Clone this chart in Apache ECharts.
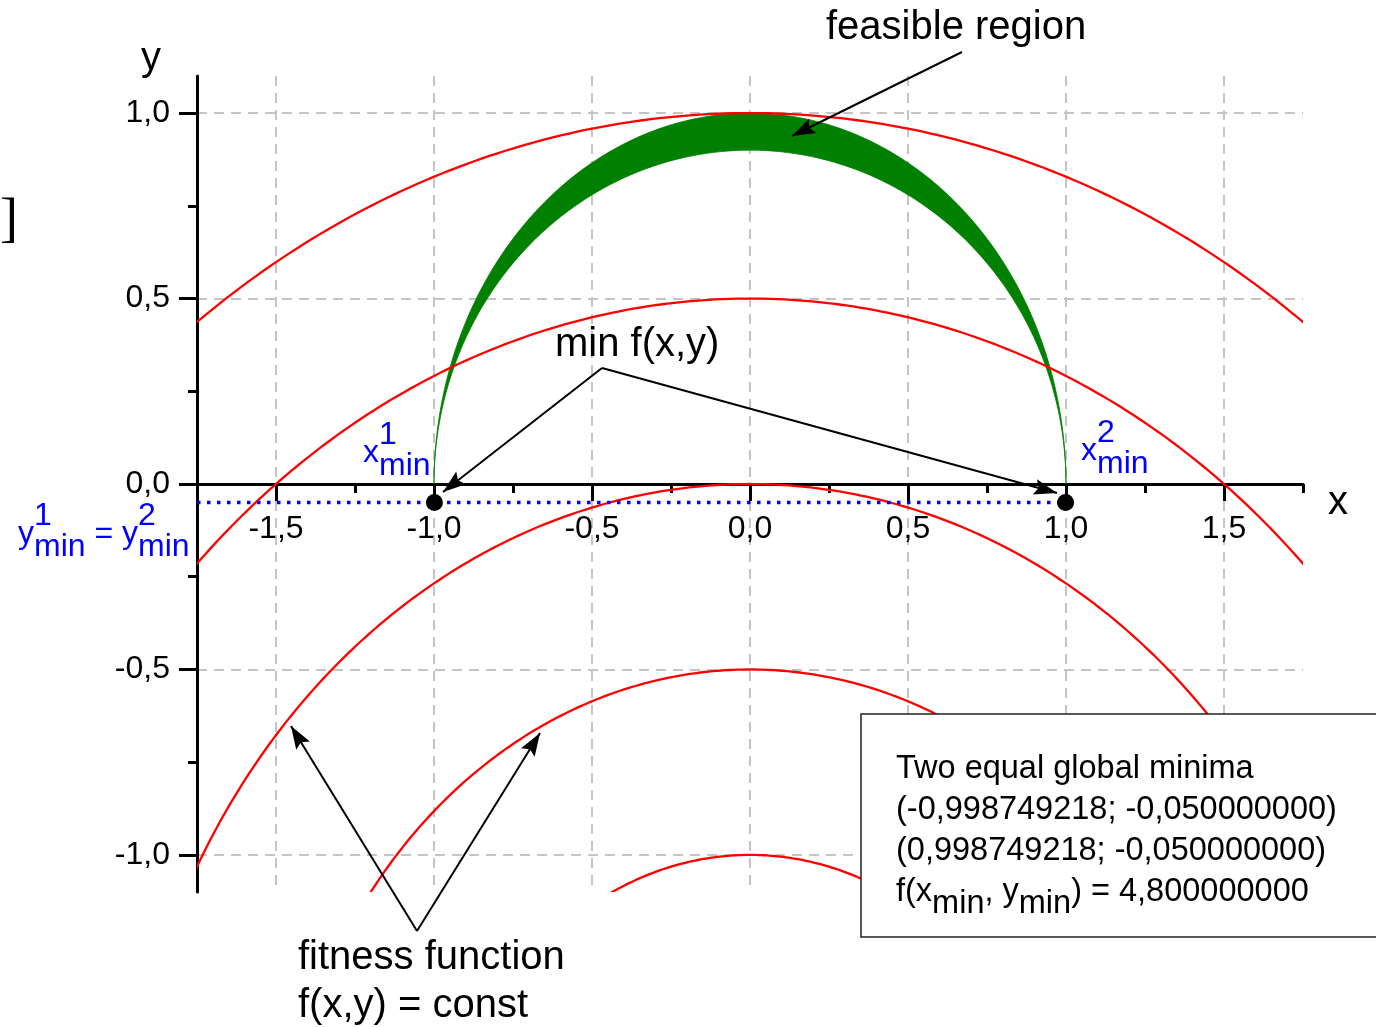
<!DOCTYPE html>
<html>
<head>
<meta charset="utf-8">
<title>Feasible region and fitness function contours</title>
<script src="https://cdn.jsdelivr.net/npm/echarts@6/dist/echarts.min.js"></script>
<style>
  html, body { margin: 0; padding: 0; background: #ffffff; }
  #chart { width: 1376px; height: 1027px; }
</style>
</head>
<body>
<div id="chart"></div>
<script>
// ---- data ----------------------------------------------------------------
// fitness function f(x,y) = (x - cx)^2 + (y - cy)^2, drawn as level curves
const fitnessCenter = [0, -2];
const contourLevels = [9, 6.25, 4, 2.25, 1];          // f(x,y) = const
// feasible region: between the unit circle and an ellipse (semi-axes 1 and 0.9), y >= 0
const outerBoundary = [1.0, 1.0];
const innerBoundary = [1.0, 0.9];
// the two global minima
const minimaX = [-0.998749218, 0.998749218];
const minimaY = [-0.05, -0.05];
const minimumValue = 4.8;
// axes
const xRange = [-1.75, 1.75];
const yRange = [-1.1, 1.1];
const xMajorTicks = [-1.5, -1.0, -0.5, 0.0, 0.5, 1.0, 1.5];
const xMinorTicks = [-1.75, -1.25, -0.75, -0.25, 0.25, 0.75, 1.25, 1.75];
const yMajorTicks = [-1.0, -0.5, 0.0, 0.5, 1.0];
const yMinorTicks = [-0.75, -0.25, 0.25, 0.75];

// ---- styling helpers -------------------------------------------------------
const SANS = '"Liberation Sans", Arial, Helvetica, sans-serif';
const SERIF = '"Liberation Serif", "Times New Roman", serif';
const BLUE = '#0000ff';
const measureCtx = document.createElement('canvas').getContext('2d');
function textWidth(s, size, family) {
  measureCtx.font = size + 'px ' + (family || SANS);
  return measureCtx.measureText(s).width;
}
const comma = (v, d) => v.toFixed(d == null ? 1 : d).replace('.', ',');

// text placed by its baseline
function label(x, baseline, s, size, color, align, family) {
  return {
    type: 'text', z: 120, silent: true,
    style: {
      x: x, y: baseline - 0.23 * size, text: s,
      fontSize: size, fontFamily: family || SANS,
      fill: color || '#000', textAlign: align || 'left',
      textVerticalAlign: 'middle', verticalAlign: 'middle'
    }
  };
}
// base text followed by stacked super/subscript, returns new x
function scripted(els, x, baseline, base, sup, sub, size, color) {
  if (base) { els.push(label(x, baseline, base, size, color)); x += textWidth(base, size); }
  if (sup) els.push(label(x, baseline - 18, sup, size, color));
  if (sub) els.push(label(x, baseline + 13, sub, size, color));
  return x + Math.max(sup ? textWidth(sup, size) : 0, sub ? textWidth(sub, size) : 0);
}
function arrowHead(tx, ty, fx, fy) {
  const L = 23, H = 8, dx = tx - fx, dy = ty - fy, d = Math.hypot(dx, dy);
  const ux = dx / d, uy = dy / d, bx = tx - ux * L, by = ty - uy * L;
  return {
    type: 'polygon', z: 120, silent: true,
    shape: { points: [[tx, ty], [bx - uy * H, by + ux * H], [bx + ux * 4, by + uy * 4], [bx + uy * H, by - ux * H]] },
    style: { fill: '#000' }
  };
}
function arrow(fx, fy, tx, ty) {
  return [
    { type: 'line', z: 120, silent: true, shape: { x1: fx, y1: fy, x2: tx, y2: ty }, style: { stroke: '#000', lineWidth: 2 } },
    arrowHead(tx, ty, fx, fy)
  ];
}

// ---- chart ---------------------------------------------------------------
const chart = echarts.init(document.getElementById('chart'), null, { renderer: 'canvas' });

const axisLineStyle = { color: '#000', width: 3 };
const gridLineStyle = { color: '#c4c4c4', width: 2, type: [10, 7] };

const option = {
  backgroundColor: '#ffffff',
  animation: false,
  grid: { left: 197, right: 73, top: 76, bottom: 135, containLabel: false, outerBoundsMode: 'none' },
  xAxis: [
    {
      type: 'value', min: xRange[0], max: xRange[1], position: 'bottom',
      axisLine: { show: true, onZero: true, onZeroAxisIndex: 0, lineStyle: axisLineStyle },
      axisTick: { show: true, inside: false, length: 17, customValues: xMajorTicks, lineStyle: axisLineStyle },
      axisLabel: { show: false, customValues: xMajorTicks },
      splitLine: { show: true, lineStyle: gridLineStyle },
      minorTick: { show: false }
    },
    {
      type: 'value', min: xRange[0], max: xRange[1], position: 'bottom',
      axisLine: { show: false, onZero: true, onZeroAxisIndex: 0 },
      axisTick: { show: true, inside: false, length: 9, customValues: xMinorTicks, lineStyle: axisLineStyle },
      axisLabel: { show: false },
      splitLine: { show: false }
    }
  ],
  yAxis: [
    {
      type: 'value', min: yRange[0], max: yRange[1], position: 'left',
      axisLine: { show: true, onZero: false, lineStyle: axisLineStyle },
      axisTick: { show: true, inside: false, length: 18, customValues: yMajorTicks, lineStyle: axisLineStyle },
      axisLabel: {
        show: true, customValues: yMajorTicks, margin: 27, formatter: v => comma(v),
        fontSize: 32, fontFamily: SANS, color: '#000'
      },
      splitLine: { show: true, lineStyle: gridLineStyle }
    },
    {
      type: 'value', min: yRange[0], max: yRange[1], position: 'left',
      axisLine: { show: false, onZero: false },
      axisTick: { show: true, inside: false, length: 9, customValues: yMinorTicks, lineStyle: axisLineStyle },
      axisLabel: { show: false },
      splitLine: { show: false }
    }
  ],
  series: [
    {
      // feasible region
      type: 'custom', name: 'feasible region', silent: true, z: 2,
      data: [[outerBoundary[0], outerBoundary[1], innerBoundary[0], innerBoundary[1]]],
      renderItem: function (params, api) {
        const ox = api.value(0), oy = api.value(1), ix = api.value(2), iy = api.value(3);
        const N = 240, pts = [];
        for (let i = 0; i <= N; i++) {
          const t = Math.PI * i / N;
          pts.push(api.coord([ox * Math.cos(t), oy * Math.sin(t)]));
        }
        for (let i = N; i >= 0; i--) {
          const t = Math.PI * i / N;
          pts.push(api.coord([ix * Math.cos(t), iy * Math.sin(t)]));
        }
        return { type: 'polygon', shape: { points: pts }, style: { fill: '#008000', stroke: '#008000', lineWidth: 0.8 } };
      }
    },
    {
      // level curves of the fitness function
      type: 'custom', name: 'f(x,y) = const', silent: true, z: 3,
      data: contourLevels.map(c => [fitnessCenter[0], fitnessCenter[1], c]),
      renderItem: function (params, api) {
        const cx = api.value(0), cy = api.value(1), r = Math.sqrt(api.value(2));
        const N = 360, pts = [];
        for (let i = 0; i <= N; i++) {
          const t = Math.PI * i / N;
          pts.push(api.coord([cx + r * Math.cos(t), cy + r * Math.sin(t)]));
        }
        const cs = params.coordSys;
        return {
          type: 'polyline', shape: { points: pts },
          style: { stroke: '#ff0000', lineWidth: 2.3, fill: null },
          clipPath: { type: 'rect', shape: { x: cs.x, y: cs.y, width: cs.width, height: cs.height } }
        };
      }
    },
    {
      // level of the minima
      type: 'line', name: 'y_min', silent: true, z: 4, symbol: 'none', color: BLUE,
      data: [[xRange[0], minimaY[0]], [minimaX[1], minimaY[1]]],
      lineStyle: { color: BLUE, width: 3.5, type: [3.5, 6.5], cap: 'butt', opacity: 1 }
    },
    {
      type: 'scatter', name: 'minima', silent: true, z: 6,
      data: minimaX.map((x, i) => [x, minimaY[i]]),
      symbol: 'circle', symbolSize: 17,
      itemStyle: { color: '#000', opacity: 1 }
    }
  ]
};
chart.setOption(option);

// ---- annotations ----------------------------------------------------------
const els = [];
// x tick labels along the zero line
xMajorTicks.forEach(v => {
  const p = chart.convertToPixel({ xAxisIndex: 0, yAxisIndex: 0 }, [v, 0]);
  els.push(label(p[0], p[1] + 53, comma(v), 32, '#000', 'center'));
});
// legend box
els.push({
  type: 'rect', z: 110, silent: true,
  shape: { x: 861, y: 714, width: 600, height: 223 },
  style: { fill: '#ffffff', stroke: '#222', lineWidth: 1.5 }
});
const BOX_FONT = 32.5;
const boxLines = [
  'Two equal global minima',
  '(' + comma(minimaX[0], 9) + '; ' + comma(minimaY[0], 9) + ')',
  '(' + comma(minimaX[1], 9) + '; ' + comma(minimaY[1], 9) + ')'
];
boxLines.forEach((s, i) => els.push(label(896, 777 + 41 * i, s, BOX_FONT)));
{
  let x = 896; const b = 900;
  const runs = [['f(x', 0], ['min', 12], [', y', 0], ['min', 12], [') = ' + comma(minimumValue, 9), 0]];
  runs.forEach(([s, dy]) => { els.push(label(x, b + dy, s, BOX_FONT)); x += textWidth(s, BOX_FONT); });
}

// axis names
els.push(label(151, 68, 'y', 40, '#000', 'center'));
els.push(label(1338, 512, 'x', 40, '#000', 'center'));
els.push(label(0, 234, ']', 54, '#000', 'left', SERIF));

// callouts
els.push(label(826, 37, 'feasible region', 40));
els.push(...arrow(962, 52, 792, 136));

els.push(label(555, 354, 'min f(x,y)', 40));
els.push(...arrow(602, 368, 443, 492));
els.push(...arrow(602, 368, 1057, 493));

els.push(label(298, 967, 'fitness function', 40));
els.push(label(298, 1015, 'f(x,y) = const', 40));
els.push(...arrow(417, 931, 291, 726));
els.push(...arrow(417, 931, 540, 733));

// minima labels
scripted(els, 363, 461, 'x', '1', 'min', 32, BLUE);
scripted(els, 1081, 459, 'x', '2', 'min', 32, BLUE);
{
  let x = scripted(els, 18, 542, 'y', '1', 'min', 32, BLUE);
  scripted(els, x, 542, ' = y', '2', 'min', 32, BLUE);
}

chart.setOption({ graphic: { elements: els } });
</script>
</body>
</html>
